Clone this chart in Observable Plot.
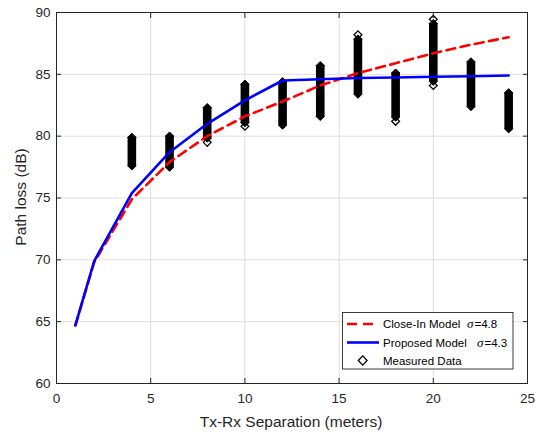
<!DOCTYPE html>
<html>
<head>
<meta charset="utf-8">
<script src="https://cdn.jsdelivr.net/npm/d3@7"></script>
<script src="https://cdn.jsdelivr.net/npm/@observablehq/plot@0.6"></script>
<style>
  html, body { margin: 0; padding: 0; background: #fff; }
</style>
</head>
<body>
<div id="chart"></div>
<script>
// ---- data ----
const distX = [1, 2, 4, 6, 8, 10, 12, 14, 16, 18, 20, 22, 24];
const closeIn = [64.7, 69.8, 74.9, 77.9, 80.0, 81.6, 82.8, 84.1, 85.1, 85.9, 86.7, 87.4, 88.0];
const proposed = [64.7, 69.9, 75.4, 78.7, 81.0, 82.9, 84.5, 84.6, 84.7, 84.75, 84.8, 84.85, 84.9];

// measured-data clusters: x and the low/high end of each dense stack
const measX = [4, 6, 8, 10, 12, 14, 16, 18, 20, 22, 24];
const measLow = [77.6, 77.5, 79.85, 81.1, 80.9, 81.6, 83.4, 81.55, 84.45, 82.4, 80.6];
const measHigh = [79.9, 80.0, 82.3, 84.2, 84.4, 85.7, 87.85, 85.1, 89.1, 86.0, 83.5];
// isolated (hollow-looking) measured points at the cluster ends
const outX = [8, 10, 16, 18, 20, 20];
const outY = [79.5, 80.8, 88.2, 81.2, 89.45, 84.1];

const xTicks = [0, 5, 10, 15, 20, 25];
const yTicks = [60, 65, 70, 75, 80, 85, 90];

const legendLabels = ["Close-In Model", "Proposed Model", "Measured Data"];
const legendSigma = ["4.8", "4.3"];

// ---- tables built from arrays ----
const lineData = distX.map((d, i) => ({x: d, ci: closeIn[i], pm: proposed[i]}));
const meas = measX.map((d, i) => ({x: d, low: measLow[i], high: measHigh[i]}));
const outliers = outX.map((d, i) => ({x: d, y: outY[i]}));

const font = "'Liberation Sans', Arial, Helvetica, sans-serif";
const ink = "#262626";
const dash = "9,5.5";

const chart = Plot.plot({
  width: 541,
  height: 432,
  marginLeft: 56,
  marginRight: 14,
  marginTop: 12,
  marginBottom: 49,
  style: {fontFamily: font, fontSize: "13.5px", background: "white", color: ink},
  x: {domain: [0, 25], label: null},
  y: {domain: [60, 90], label: null},
  marks: [
    Plot.gridX(xTicks, {stroke: "#dedede", strokeOpacity: 1}),
    Plot.gridY(yTicks, {stroke: "#dedede", strokeOpacity: 1}),
    // measured data stacks
    Plot.ruleX(meas, {x: "x", y1: "low", y2: "high", stroke: "black", strokeWidth: 8.6}),
    Plot.dot(meas, {x: "x", y: "low", symbol: "diamond2", r: 3.8, fill: "black", stroke: "black", strokeWidth: 1}),
    Plot.dot(meas, {x: "x", y: "high", symbol: "diamond2", r: 3.8, fill: "black", stroke: "black", strokeWidth: 1}),
    Plot.dot(outliers, {x: "x", y: "y", symbol: "diamond2", r: 3.5, fill: "none", stroke: "black", strokeWidth: 1.3}),
    // models
    Plot.line(lineData, {x: "x", y: "ci", stroke: "#ff0000", strokeWidth: 2.6, strokeDasharray: dash}),
    Plot.line(lineData, {x: "x", y: "pm", stroke: "#0000ff", strokeWidth: 2.6}),
    // axes (MATLAB-style inward ticks, box)
    Plot.axisX(xTicks, {anchor: "bottom", tickSize: -5, tickPadding: 15, label: null, stroke: ink, fill: ink, fontSize: 13.5}),
    Plot.axisX(xTicks, {anchor: "top", tickSize: -5, tickFormat: () => "", label: null, stroke: ink}),
    Plot.axisY(yTicks, {anchor: "left", tickSize: -5, tickPadding: 11, label: null, stroke: ink, fill: ink, fontSize: 13.5}),
    Plot.axisY(yTicks, {anchor: "right", tickSize: -5, tickFormat: () => "", label: null, stroke: ink}),
    Plot.frame({stroke: ink, strokeWidth: 1})
  ]
});

document.getElementById("chart").appendChild(chart);

const svg = d3.select(chart);

// axis titles
svg.append("text")
  .attr("x", 291).attr("y", 427)
  .attr("text-anchor", "middle")
  .attr("font-family", font).attr("font-size", 15.5).attr("fill", ink)
  .text("Tx-Rx Separation (meters)");
svg.append("text")
  .attr("transform", "translate(26,197) rotate(-90)")
  .attr("text-anchor", "middle")
  .attr("font-family", font).attr("font-size", 15.5).attr("fill", ink)
  .text("Path loss (dB)");

// legend
const lg = svg.append("g").attr("font-family", font).attr("font-size", 11.5).attr("fill", "black").attr("text-anchor", "start");
lg.append("rect").attr("x", 342.5).attr("y", 312.5).attr("width", 170.5).attr("height", 56.5)
  .attr("fill", "white").attr("stroke", ink).attr("stroke-width", 0.9);
const rowY = [324, 342.5, 360.5];
lg.append("line").attr("x1", 347).attr("x2", 379).attr("y1", rowY[0]).attr("y2", rowY[0])
  .attr("stroke", "#ff0000").attr("stroke-width", 2.6).attr("stroke-dasharray", "10,6");
lg.append("line").attr("x1", 347).attr("x2", 379).attr("y1", rowY[1]).attr("y2", rowY[1])
  .attr("stroke", "#0000ff").attr("stroke-width", 2.6);
lg.append("path")
  .attr("d", `M362.7,${rowY[2] - 4.6}L367.1,${rowY[2]}L362.7,${rowY[2] + 4.6}L358.3,${rowY[2]}Z`)
  .attr("fill", "none").attr("stroke", "black").attr("stroke-width", 1.3);
legendLabels.forEach((t, i) => {
  lg.append("text").attr("x", 383).attr("y", rowY[i] + 4).attr("text-anchor", "start").text(t);
});
const sigX = [467, 477];
legendSigma.forEach((s, i) => {
  const t = lg.append("text").attr("x", sigX[i]).attr("y", rowY[i] + 4).attr("text-anchor", "start");
  t.append("tspan").attr("font-family", "'Liberation Serif', 'DejaVu Serif', serif").attr("font-style", "italic").attr("font-size", 13).text("σ");
  t.append("tspan").attr("dx", 1).text("=" + s);
});
</script>
</body>
</html>
